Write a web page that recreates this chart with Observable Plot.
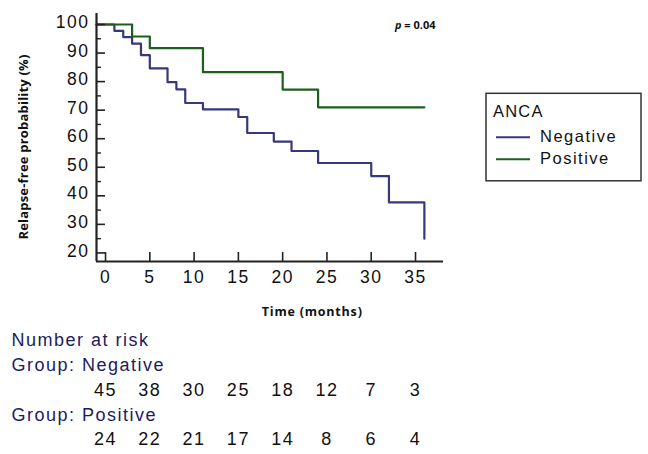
<!DOCTYPE html>
<html><head><meta charset="utf-8">
<script src="https://cdn.jsdelivr.net/npm/d3@7"></script>
<script src="https://cdn.jsdelivr.net/npm/@observablehq/plot@0.6"></script>
<style>
body{margin:0;background:#fff;}
#wrap{position:relative;width:648px;height:454px;overflow:hidden;background:#fff}
#legend{position:absolute;left:485px;top:92px;}
</style></head><body><div id="wrap"></div>
<script>
const negTimes=[0,1,2,3,4,5,7,8,9,11,15,16,19,21,24,30,32,36];
const negSurv=[100,97.8,95.6,93.3,89.3,84.6,79.8,77.3,72.5,70.3,67.6,62.0,59.0,55.7,51.5,46.9,37.7,25.0];
const posTimes=[0,3,5,11,20,24,36];
const posSurv=[100,95.8,91.7,83.3,77.2,71.0,71.0];
const groups=["Negative","Positive"];
const groupColors=["#37377a","#1c5e1c"];
const riskTimes=[0,5,10,15,20,25,30,35];
const riskNeg=[45,38,30,25,18,12,7,3];
const riskPos=[24,22,21,17,14,8,6,4];
const xTicks=[0,5,10,15,20,25,30,35];
const yTicks=[20,30,40,50,60,70,80,90,100];
const yMinorTicks=[25,35,45,55,65,75,85,95];
const xDomain=[-1.02,38.16];
const yDomain=[17.0,103.85];
const legendTitle="ANCA";
const pText="p = 0.04";
const xLabel="Time (months)";
const yLabel="Relapse-free probability (%)";
const riskTitle="Number at risk";
const riskRowLabels=["Group: Negative","Group: Positive"];

const W=648,H=454,mL=96,mR=205,mT=13,mB=193;
const plotW=W-mL-mR, plotH=H-mT-mB;
const axisColor="#222";
const navy="#1c1c5e";
const regFont="'Liberation Sans', Arial, sans-serif";
const boldFont="'Open Sans', 'Liberation Sans', Arial, sans-serif";

function curve(times,surv,group){
  const rows=[{t:xDomain[0],s:surv[0],group}];
  times.forEach((t,i)=>rows.push({t,s:surv[i],group}));
  return rows;
}
const curves=[...curve(negTimes,negSurv,groups[0]),...curve(posTimes,posSurv,groups[1])];

const chart=Plot.plot({
  width:W,height:H,marginLeft:mL,marginRight:mR,marginTop:mT,marginBottom:mB,
  style:{fontFamily:regFont,background:"#fff",overflow:"visible"},
  x:{domain:xDomain,axis:null},
  y:{domain:yDomain,axis:null},
  color:{domain:groups,range:groupColors},
  marks:[
    Plot.line(curves,{x:"t",y:"s",z:"group",stroke:"group",curve:"step-after",strokeWidth:2.2}),
    Plot.tickX(xTicks,{x:d=>d,insetTop:plotH-9,stroke:axisColor,strokeWidth:1.6}),
    Plot.tickY(yTicks,{y:d=>d,insetRight:plotW-9,stroke:axisColor,strokeWidth:1.6}),
    Plot.tickY(yMinorTicks,{y:d=>d,insetRight:plotW-5,stroke:axisColor,strokeWidth:1.4}),
    Plot.ruleX([xDomain[0]],{stroke:axisColor,strokeWidth:2.2}),
    Plot.ruleY([yDomain[0]],{stroke:axisColor,strokeWidth:2.2}),
    Plot.axisX(xTicks,{tickSize:0,tickPadding:9,fontSize:17.5,fill:"#111",label:null}),
    Plot.axisY(yTicks,{tickSize:0,tickPadding:7,fontSize:17.5,fill:"#111",dy:-2,label:null}),
    Plot.text([xLabel],{text:d=>d,frameAnchor:"bottom-left",dx:311.7-mL,dy:315-(H-mB),textAnchor:"middle",lineAnchor:"bottom",fontSize:12.5,fontWeight:"bold",fontFamily:boldFont,fill:"#111"}),
    Plot.text([yLabel],{text:d=>d,frameAnchor:"left",rotate:-90,dx:23-mL,dy:146.5-(mT+plotH/2),textAnchor:"middle",lineAnchor:"middle",fontSize:13,fontWeight:"bold",fontFamily:boldFont,fill:"#111"}),
    Plot.text([pText],{text:d=>d,frameAnchor:"top-right",dx:-8,dy:28.3-mT,textAnchor:"end",lineAnchor:"bottom",fontSize:11,fontWeight:"bold",fontFamily:boldFont,fill:"#111"}),
    Plot.text([riskTitle],{text:d=>d,frameAnchor:"bottom-left",dx:11-mL,dy:345-(H-mB),textAnchor:"start",lineAnchor:"bottom",fontSize:18,fill:navy}),
    Plot.text([riskRowLabels[0]],{text:d=>d,frameAnchor:"bottom-left",dx:11-mL,dy:370-(H-mB),textAnchor:"start",lineAnchor:"bottom",fontSize:18,fill:navy}),
    Plot.text(riskNeg,{x:(d,i)=>riskTimes[i],text:d=>String(d),frameAnchor:"bottom",dy:395.5-(H-mB),textAnchor:"middle",lineAnchor:"bottom",fontSize:18,fill:"#111"}),
    Plot.text([riskRowLabels[1]],{text:d=>d,frameAnchor:"bottom-left",dx:11-mL,dy:420-(H-mB),textAnchor:"start",lineAnchor:"bottom",fontSize:18,fill:navy}),
    Plot.text(riskPos,{x:(d,i)=>riskTimes[i],text:d=>String(d),frameAnchor:"bottom",dy:444.5-(H-mB),textAnchor:"middle",lineAnchor:"bottom",fontSize:18,fill:"#111"})
  ]
});
const wrap=document.getElementById("wrap");
wrap.appendChild(chart);

// letter spacing and italic p
d3.select(chart).selectAll("text").each(function(){
  const t=this.textContent;
  const sel=d3.select(this);
  if(t===xLabel){sel.style("letter-spacing","0.8px");}
  else if(t===yLabel){sel.style("letter-spacing","0.2px");}
  else if(t===pText){
    sel.text("");
    sel.append("tspan").attr("font-style","italic").text("p");
    sel.append("tspan").text(pText.slice(1));
  } else {sel.style("letter-spacing","1.5px");}
});

// legend
const lg=d3.select(wrap).append("svg").attr("id","legend").attr("width",160).attr("height",92)
  .style("font-family",regFont);
lg.append("rect").attr("x",1).attr("y",1.3).attr("width",155).attr("height",87.5)
  .attr("fill","#fff").attr("stroke","#333").attr("stroke-width",1.5);
lg.append("text").attr("x",493-485).attr("y",117.3-92).attr("font-size",16.5).attr("fill","#111")
  .style("letter-spacing","1.2px").text(legendTitle);
groups.forEach((g,i)=>{
  const y=(i===0?137.3:159.3)-92;
  lg.append("line").attr("x1",496-485).attr("x2",530-485).attr("y1",y).attr("y2",y)
    .attr("stroke",groupColors[i]).attr("stroke-width",2);
  lg.append("text").attr("x",540-485).attr("y",y+(i===0?4.4:4.6)).attr("font-size",16.5).attr("fill","#111")
    .style("letter-spacing","1.5px").text(g);
});
</script></body></html>
